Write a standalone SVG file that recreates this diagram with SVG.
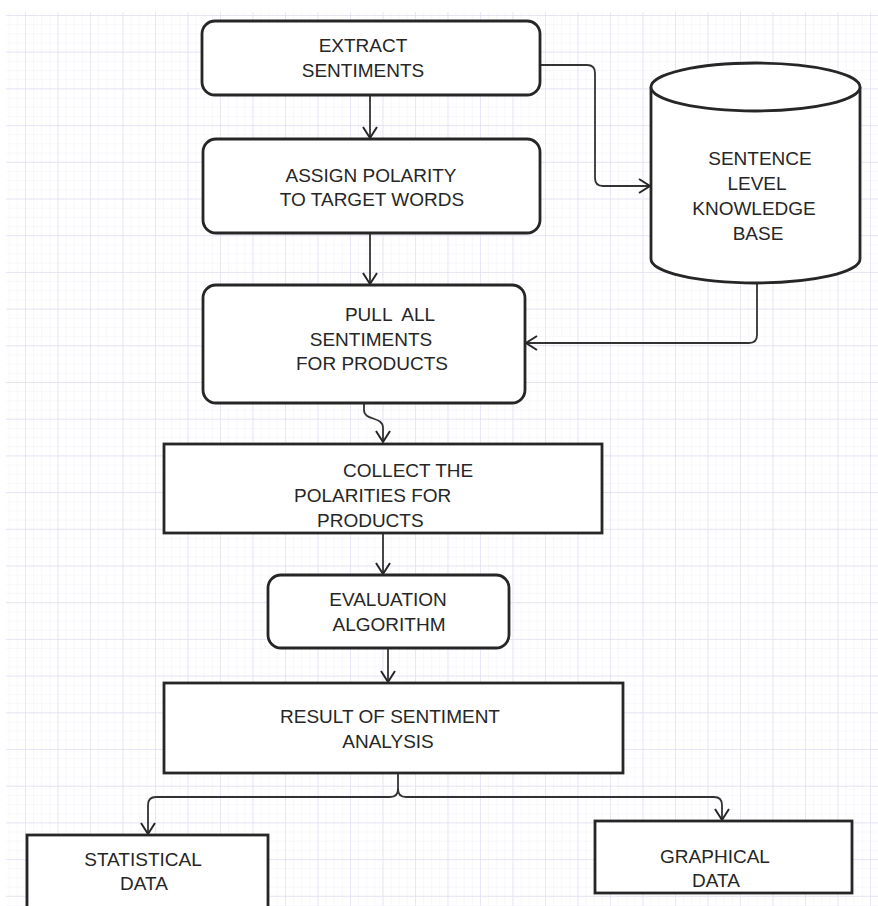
<svg xmlns="http://www.w3.org/2000/svg" width="878" height="906" viewBox="0 0 878 906">
<style>
  .box { fill: #ffffff; stroke: #262626; stroke-width: 2.8; }
  .lbl { font-family: "Liberation Sans", Arial, sans-serif; font-size: 19px; fill: #262626; text-anchor: middle; }
  .lbs { font-family: "Liberation Sans", Arial, sans-serif; font-size: 19px; fill: #262626; }
  .conn { fill: none; stroke: #333333; stroke-width: 1.8; }
</style>
<defs>
  <pattern id="minor" patternUnits="userSpaceOnUse" x="25" y="15" width="8.125" height="9.175">
    <path d="M0,0 V9.175 M0,0 H8.125" fill="none" stroke="#f1f1fa" stroke-width="1"/>
  </pattern>
  <pattern id="major" patternUnits="userSpaceOnUse" x="25" y="15" width="32.5" height="36.7">
    <path d="M0,0 V36.7 M0,0 H32.5" fill="none" stroke="#e0e0f2" stroke-width="1.4"/>
  </pattern>
  <marker id="arr" markerUnits="userSpaceOnUse" viewBox="0 0 14 16" refX="12" refY="8" markerWidth="14" markerHeight="16" orient="auto">
    <path d="M1,1 L12,8 L1,15" fill="none" stroke="#262626" stroke-width="2"/>
  </marker>
</defs>
<rect x="0" y="0" width="878" height="906" fill="#ffffff"/>
<rect x="6" y="12" width="872" height="894" fill="url(#minor)"/>
<rect x="6" y="12" width="872" height="894" fill="url(#major)"/>

<g id="connectors">
  <path class="conn" d="M370,95 V138" marker-end="url(#arr)"/>
  <path class="conn" d="M370,233 V284" marker-end="url(#arr)"/>
  <path class="conn" d="M364,403 V410 C364,421 383,416 383,428 V442" marker-end="url(#arr)"/>
  <path class="conn" d="M383,533 V574" marker-end="url(#arr)"/>
  <path class="conn" d="M388,648 V682" marker-end="url(#arr)"/>
  <path class="conn" d="M540,65 H587 Q595,65 595,73 V178 Q595,186 603,186 H650" marker-end="url(#arr)"/>
  <path class="conn" d="M757,283 V335 Q757,343 749,343 H526" marker-end="url(#arr)"/>
  <path class="conn" d="M398,773 V789 Q398,797 390,797 H156 Q148,797 148,805 V834" marker-end="url(#arr)"/>
  <path class="conn" d="M398,789 Q398,797 406,797 H714 Q722,797 722,805 V820" marker-end="url(#arr)"/>
</g>

<g id="extract">
  <rect class="box" x="202" y="21" width="338" height="74" rx="13"/>
  <text class="lbl" x="363" y="52">EXTRACT</text>
  <text class="lbl" x="363" y="77">SENTIMENTS</text>
</g>
<g id="assign">
  <rect class="box" x="203" y="139" width="337" height="94" rx="13"/>
  <text class="lbl" x="371" y="182">ASSIGN POLARITY</text>
  <text class="lbl" x="372" y="206">TO TARGET WORDS</text>
</g>
<g id="pull">
  <rect class="box" x="203" y="285" width="322" height="118" rx="13"/>
  <text class="lbl" x="390" y="321" xml:space="preserve">PULL  ALL</text>
  <text class="lbl" x="371" y="346">SENTIMENTS</text>
  <text class="lbl" x="372" y="370">FOR PRODUCTS</text>
</g>
<g id="knowledge">
  <path class="box" d="M651,87 V259 A104.5,24 0 0 0 860,259 V87"/>
  <ellipse class="box" cx="755.5" cy="87" rx="104.5" ry="24"/>
  <text class="lbl" x="760" y="165">SENTENCE</text>
  <text class="lbl" x="757" y="190">LEVEL</text>
  <text class="lbl" x="754" y="215">KNOWLEDGE</text>
  <text class="lbl" x="758" y="240">BASE</text>
</g>
<g id="collect">
  <rect class="box" x="164" y="444" width="438" height="89"/>
  <text class="lbs" x="343" y="477">COLLECT THE</text>
  <text class="lbs" x="294" y="502">POLARITIES FOR</text>
  <text class="lbs" x="317" y="527">PRODUCTS</text>
</g>
<g id="evaluation">
  <rect class="box" x="268" y="575" width="241" height="73" rx="13"/>
  <text class="lbl" x="388" y="606">EVALUATION</text>
  <text class="lbl" x="389" y="631">ALGORITHM</text>
</g>
<g id="result">
  <rect class="box" x="164" y="683" width="459" height="90"/>
  <text class="lbl" x="390" y="723">RESULT OF SENTIMENT</text>
  <text class="lbl" x="388" y="748">ANALYSIS</text>
</g>
<g id="statistical">
  <rect class="box" x="27" y="835" width="241" height="80"/>
  <text class="lbl" x="143" y="866">STATISTICAL</text>
  <text class="lbl" x="144" y="890">DATA</text>
</g>
<g id="graphical">
  <rect class="box" x="595" y="821" width="257" height="72"/>
  <text class="lbl" x="715" y="863">GRAPHICAL</text>
  <text class="lbl" x="716" y="887">DATA</text>
</g>
</svg>
